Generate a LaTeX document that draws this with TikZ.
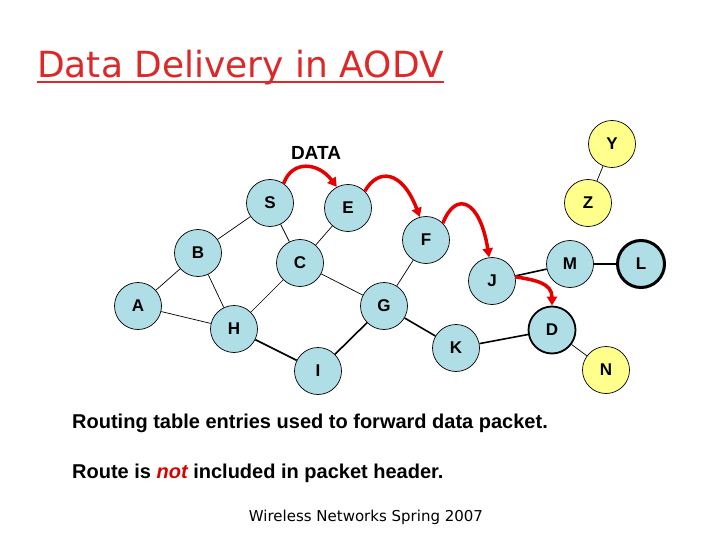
\documentclass[tikz,border=0pt]{standalone}
\usepackage{fontspec}
\setmainfont{Liberation Sans}
\newfontfamily\verd{DejaVu Sans}
\usetikzlibrary{arrows.meta,calc}
\definecolor{nodeblue}{RGB}{176,222,230}
\definecolor{nodeyellow}{RGB}{255,255,140}
\definecolor{titlered}{RGB}{220,40,40}
\definecolor{arrowred}{RGB}{230,0,0}
\begin{document}
\begin{tikzpicture}[x=1pt,y=-1pt,
  nd/.style={circle,draw=black,line width=0.7pt,fill=nodeblue,minimum size=47pt,inner sep=0pt,font=\fontsize{17}{17}\selectfont\bfseries},
  ndy/.style={nd,fill=nodeyellow},
  thinedge/.style={line width=0.7pt},
  thickedge/.style={line width=1.6pt},
  hop/.style={draw=arrowred,line width=3.5pt,-{Triangle[length=9pt,width=10pt]}}]
\useasboundingbox (0,0) rectangle (720,540);
% title
\node[anchor=base west,inner sep=0pt,text=titlered,font=\verd\fontsize{36}{36}\selectfont] (title) at (37,78) {Data Delivery in AODV};
\draw[titlered,line width=2pt] ($(title.base west)+(0,4)$) -- ($(title.base east)+(0,4)$);
% nodes
\node[nd] (S) at (270,203) {S};
\node[nd] (E) at (348,208) {E};
\node[nd] (F) at (426,240) {F};
\node[ndy] (Y) at (612,144) {Y};
\node[ndy] (Z) at (588,203) {Z};
\node[nd] (M) at (570,264) {M};
\node[nd,line width=3pt] (L) at (641,264) {L};
\node[nd] (J) at (492,281) {J};
\node[nd] (B) at (198,253) {B};
\node[nd] (C) at (300,263) {C};
\node[nd] (A) at (138,306) {A};
\node[nd] (H) at (234,329) {H};
\node[nd] (G) at (384,306) {G};
\node[nd] (I) at (318,371) {I};
\node[nd] (K) at (456,348) {K};
\node[nd,line width=1.8pt] (D) at (552,330) {D};
\node[ndy] (N) at (606,370) {N};
% edges
\draw[thinedge] (S) -- (B);
\draw[thinedge] (S) -- (C);
\draw[thinedge] (E) -- (C);
\draw[thinedge] (B) -- (A);
\draw[thinedge] (B) -- (H);
\draw[thinedge] (A) -- (H);
\draw[thinedge] (C) -- (H);
\draw[thinedge] (C) -- (G);
\draw[thinedge] (F) -- (G);
\draw[thinedge] (Y) -- (Z);
\draw[thinedge] (D) -- (N);
\draw[thickedge] (H) -- (I);
\draw[thickedge] (I) -- (G);
\draw[thickedge] (G) -- (K);
\draw[thickedge] (K) -- (D);
\draw[thickedge] (J) -- (M);
\draw[thickedge] (M) -- (L);
% data hops
\draw[hop] (S.55) .. controls (292,160) and (318,162) .. (E.118);
\draw[hop] (E.45) .. controls (378,168) and (402,170) .. (F.105);
\draw[hop] (F.45) .. controls (456,190) and (480,200) .. (J.97);
\draw[hop] (J.10) .. controls (535,280) and (552,283) .. (D.north);
% labels
\node[font=\fontsize{19}{19}\selectfont\bfseries] (data) at (316,153) {DATA};
\node[anchor=base west,inner sep=0pt,font=\fontsize{20}{20}\selectfont\bfseries] (l1) at (72,428) {Routing table entries used to forward data packet.};
\node[anchor=base west,inner sep=0pt,font=\fontsize{20}{20}\selectfont\bfseries] (l2) at (72,478) {Route is \textcolor{red!85!black}{\itshape not} included in packet header.};
\node[anchor=base,inner sep=0pt,font=\verd\fontsize{15}{15}\selectfont] (foot) at (366,521) {Wireless Networks Spring 2007};
\end{tikzpicture}
\end{document}
